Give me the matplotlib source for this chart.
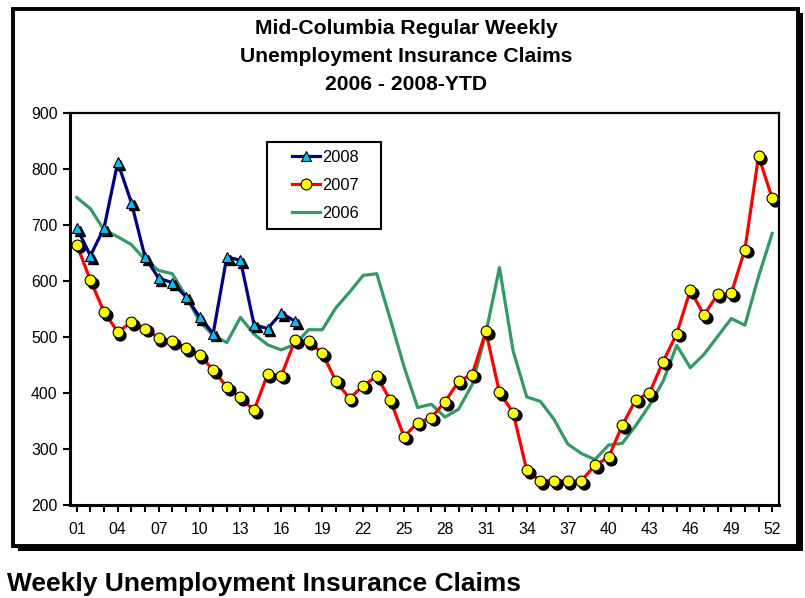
import numpy as np
import matplotlib
matplotlib.use("Agg")
import matplotlib.pyplot as plt
from matplotlib.lines import Line2D
from matplotlib.patches import Rectangle
from matplotlib.transforms import ScaledTranslation

plt.rcParams['font.family'] = ['Liberation Sans', 'DejaVu Sans']

# weekly claims
weeks = np.arange(1, 53)
y2008 = [695, 645, 695, 812, 740, 643, 605, 597, 572, 536, 506, 643, 637, 522, 515, 543, 528]
y2007 = [665, 601, 545, 509, 526, 515, 498, 492, 480, 468,
         441, 411, 392, 369, 434, 431, 494, 493, 471, 422,
         390, 413, 430, 387, 322, 347, 356, 384, 421, 433,
         510, 401, 365, 262, 243, 243, 243, 243, 271, 285,
         342, 388, 400, 456, 506, 584, 539, 576, 578, 656,
         823, 748]
y2006 = [749, 729, 691, 679, 665, 638, 619, 613, 573, 528,
         503, 490, 535, 505, 486, 477, 487, 513, 513, 552,
         580, 610, 613, 531, 447, 374, 380, 357, 371, 415,
         507, 624, 475, 393, 385, 353, 309, 292, 281, 307,
         310, 342, 378, 421, 485, 445, 469, 501, 533, 521,
         608, 685]

title_lines = ["Mid-Columbia Regular Weekly",
               "Unemployment Insurance Claims",
               "2006 - 2008-YTD"]

navy = '#000080'
cyan = '#00BFFF'
red = '#FF0000'
yellow = '#FFFF00'
green = '#339966'

W, H = 805, 598
fig = plt.figure(figsize=(W / 100, H / 100), dpi=100)

# outer chart frame with shadow
fig.patches.append(Rectangle((18 / W, 1 - 551 / H), 785 / W, 538 / H, transform=fig.transFigure,
                             facecolor='black', edgecolor='black', lw=0, zorder=0))
fig.patches.append(Rectangle((13 / W, 1 - 546 / H), 785 / W, 537 / H, transform=fig.transFigure,
                             facecolor='white', edgecolor='black', lw=2.8, zorder=1))

ax = fig.add_axes([70 / W, 1 - 505 / H, 709 / W, 392 / H])
ax.set_zorder(2)

shadow = ax.transData + ScaledTranslation(2 / 72, -2 / 72, fig.dpi_scale_trans)

ax.plot(weeks, y2006, color=green, lw=2.3, zorder=2)

w07 = weeks[:len(y2007)]
ax.plot(w07, y2007, color=red, lw=2.3, zorder=3)
ax.plot(w07, y2007, 'o', ms=7.8, color='black', transform=shadow, zorder=3.1)
ax.plot(w07, y2007, 'o', ms=7.8, mfc=yellow, mec='black', mew=0.8, zorder=3.2)

w08 = weeks[:len(y2008)]
ax.plot(w08, y2008, color=navy, lw=2.3, zorder=4)
ax.plot(w08, y2008, '^', ms=7, color='black', transform=shadow, zorder=4.1)
ax.plot(w08, y2008, '^', ms=7, mfc=cyan, mec='black', mew=0.8, zorder=4.2)

ax.set_xlim(0.5, 52.5)
ax.set_ylim(200, 900)
ax.set_yticks(np.arange(200, 901, 100))
ax.set_xticks(weeks)
ax.set_xticklabels([f"{w:02d}" if (w - 1) % 3 == 0 else "" for w in weeks])
ax.tick_params(axis='both', direction='out', length=5, width=1.5, labelsize=11.3, color='black')
ax.tick_params(axis='x', pad=7)
ax.tick_params(axis='y', pad=4)
for s in ['left', 'bottom']:
    ax.spines[s].set_linewidth(2.2)
for s in ['top', 'right']:
    ax.spines[s].set_linewidth(1.6)

# legend: box drawn separately, entries placed inside it
handles = [
    Line2D([], [], color=navy, lw=2.3, marker='^', ms=7, mfc=cyan, mec='black', mew=0.8),
    Line2D([], [], color=red, lw=2.3, marker='o', ms=7.8, mfc=yellow, mec='black', mew=0.8),
    Line2D([], [], color=green, lw=2.3),
]
leg = ax.legend(handles, ['2008', '2007', '2006'], loc='upper left',
                bbox_to_anchor=(292 / W, 1 - 150 / H), bbox_transform=fig.transFigure,
                fontsize=11.8, frameon=False, handlelength=1.72,
                handletextpad=0.12, labelspacing=0.78, borderpad=0, borderaxespad=0)
fig.patches.append(Rectangle((267 / W, 1 - 229 / H), 114 / W, 87 / H, transform=fig.transFigure,
                             facecolor='none', edgecolor='black', lw=1.5, zorder=3))

for i, line in enumerate(title_lines):
    fig.text(406 / W, 1 - (33.5 + 28.2 * i) / H, line, ha='center', va='baseline',
             fontsize=15.2, fontweight='bold', zorder=5)

fig.text(7 / W, 1 - 591 / H, "Weekly Unemployment Insurance Claims", ha='left', va='baseline',
         fontsize=19, fontweight='bold')

fig.savefig("out.png", dpi=100)
